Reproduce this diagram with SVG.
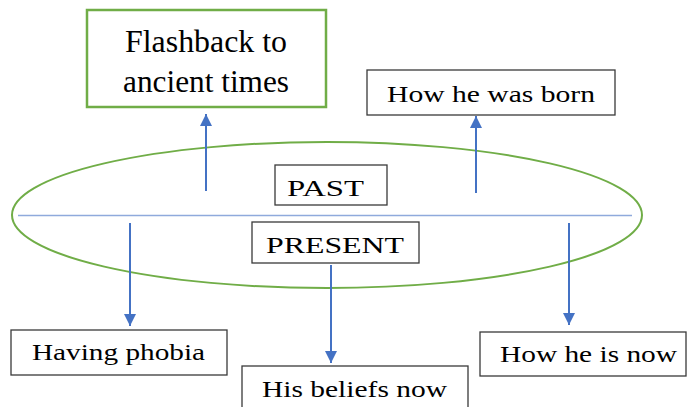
<svg xmlns="http://www.w3.org/2000/svg" width="687" height="407" viewBox="0 0 687 407">
<defs>
<marker id="ah" markerUnits="userSpaceOnUse" markerWidth="14" markerHeight="14" viewBox="0 0 14 14" refX="12" refY="7" orient="auto">
<path d="M0,1 L12,7 L0,13 Z" fill="#4472C4"/>
</marker>
<style>
.box{fill:#fff;stroke:#3a3a3a;stroke-width:1.3}
.gbox{fill:#fff;stroke:#70AD47;stroke-width:2.5}
.t{font-family:"Liberation Serif","Times New Roman",serif;font-size:24px;fill:#000}
.tb{font-family:"Liberation Serif","Times New Roman",serif;font-size:31px;fill:#000}
.arr{stroke:#4472C4;stroke-width:2;fill:none;marker-end:url(#ah)}
</style>
</defs>
<g id="ellipse">
<ellipse cx="327" cy="215" rx="315" ry="73" fill="none" stroke="#70AD47" stroke-width="2"/>
<line x1="18" y1="215.5" x2="632" y2="215.5" stroke="#8FAADC" stroke-width="1.3"/>
</g>
<g id="connectors">
<line class="arr" x1="206" y1="191" x2="206" y2="114"/>
<line class="arr" x1="476" y1="193" x2="476" y2="116"/>
<line class="arr" x1="130" y1="223" x2="130" y2="326"/>
<line class="arr" x1="331" y1="265" x2="331" y2="363"/>
<line class="arr" x1="569" y1="223" x2="569" y2="325"/>
</g>
<g id="flashback">
<rect class="gbox" x="87" y="10" width="239" height="97"/>
<text class="tb" x="125" y="52" textLength="162" lengthAdjust="spacingAndGlyphs">Flashback to</text>
<text class="tb" x="123" y="92" textLength="166" lengthAdjust="spacingAndGlyphs">ancient times</text>
</g>
<g id="born">
<rect class="box" x="367" y="70" width="248" height="45"/>
<text class="t" x="387" y="102" textLength="208" lengthAdjust="spacingAndGlyphs">How he was born</text>
</g>
<g id="past">
<rect class="box" x="275" y="165" width="112" height="40"/>
<text class="t" x="287" y="196" textLength="77" lengthAdjust="spacingAndGlyphs">PAST</text>
</g>
<g id="present">
<rect class="box" x="252" y="222" width="167" height="41"/>
<text class="t" x="266" y="253" textLength="138" lengthAdjust="spacingAndGlyphs">PRESENT</text>
</g>
<g id="phobia">
<rect class="box" x="11" y="330" width="216" height="45"/>
<text class="t" x="32" y="360" textLength="173" lengthAdjust="spacingAndGlyphs">Having phobia</text>
</g>
<g id="beliefs">
<rect class="box" x="242" y="366" width="226" height="50"/>
<text class="t" x="262" y="397" textLength="185" lengthAdjust="spacingAndGlyphs">His beliefs now</text>
</g>
<g id="now">
<rect class="box" x="480" y="332" width="206" height="44"/>
<text class="t" x="500" y="362" textLength="177" lengthAdjust="spacingAndGlyphs">How he is now</text>
</g>
</svg>
